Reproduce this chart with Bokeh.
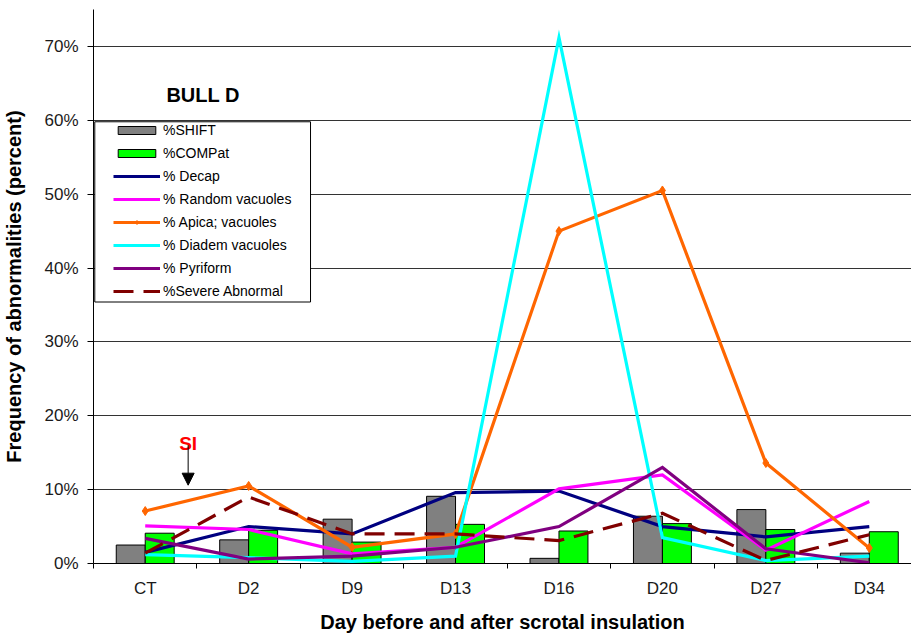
from bokeh.plotting import figure
from bokeh.models import (ColumnDataSource, FixedTicker, Range1d, Legend, LegendItem,
                          BoxAnnotation, Label, Arrow, NormalHead)
from bokeh.transform import dodge
from bokeh.embed import file_html
from bokeh.resources import INLINE

# Sampling days (CT = control, then days after scrotal insulation)
categories = ["CT", "D2", "D9", "D13", "D16", "D20", "D27", "D34"]

# Frequencies of abnormalities, in percent
shift_pct = [2.5, 3.2, 6.0, 9.1, 0.7, 6.4, 7.3, 1.4]
compat_pct = [4.1, 4.5, 2.9, 5.3, 4.4, 5.4, 4.6, 4.3]
decap_pct = [1.5, 5.0, 4.0, 9.6, 9.8, 5.0, 3.6, 5.0]
random_vac_pct = [5.1, 4.6, 1.3, 2.2, 10.1, 12.0, 1.8, 8.4]
apical_vac_pct = [7.1, 10.5, 2.2, 4.0, 45.0, 50.5, 13.6, 2.1]
diadem_vac_pct = [1.2, 0.8, 0.3, 1.0, 71.2, 3.5, 0.4, 1.0]
pyriform_pct = [3.4, 0.6, 1.0, 2.2, 5.0, 13.0, 2.0, 0.1]
severe_pct = [1.4, 9.0, 4.0, 4.0, 3.1, 6.8, 0.4, 3.9]

y_ticks = [0, 10, 20, 30, 40, 50, 60, 70]

FONT = "Liberation Sans"

source = ColumnDataSource(dict(
    x=list(range(len(categories))),
    shift=shift_pct, compat=compat_pct, decap=decap_pct,
    random=random_vac_pct, apical=apical_vac_pct, diadem=diadem_vac_pct,
    pyriform=pyriform_pct, severe=severe_pct,
))

n = len(categories)
p = figure(width=911, height=635, output_backend="svg", toolbar_location=None,
           x_range=Range1d(-0.5, n - 0.592), y_range=Range1d(0, 75),
           min_border_left=92, min_border_right=0, min_border_top=9,
           min_border_bottom=69)
p.outline_line_color = None
p.background_fill_color = "white"
p.border_fill_color = "white"

# --- x axis: labels at category centres, tick marks between categories
p.xaxis.ticker = FixedTicker(ticks=list(range(n)),
                             minor_ticks=[i - 0.5 for i in range(n + 1)])
p.xaxis.major_label_overrides = {i: c for i, c in enumerate(categories)}
p.xaxis.major_tick_out = 5
p.xaxis.major_tick_in = 0
p.xaxis.minor_tick_out = 5
p.xaxis.minor_tick_in = 0
p.xaxis.minor_tick_line_color = "black"
p.xaxis.major_label_standoff = 10
p.xaxis.axis_label = "Day before and after scrotal insulation"
p.xaxis.axis_label_standoff = 10

# --- y axis: percent ticks
p.yaxis.ticker = FixedTicker(ticks=y_ticks, minor_ticks=[])
p.yaxis.major_label_overrides = {t: f"{t}%" for t in y_ticks}
p.yaxis.major_tick_out = 6
p.yaxis.major_tick_in = 0
p.yaxis.major_label_standoff = 9
p.yaxis.axis_label = "Frequency of abnormalities (percent)"
p.yaxis.axis_label_standoff = 16

for ax in (p.xaxis, p.yaxis):
    ax.axis_line_color = "black"
    ax.axis_line_width = 1
    ax.major_label_text_font = FONT
    ax.major_label_text_font_size = "17px"
    ax.major_label_text_color = "#1a1a1a"
    ax.axis_label_text_font = FONT
    ax.axis_label_text_font_size = "20px"
    ax.axis_label_text_font_style = "bold"
    ax.axis_label_text_color = "black"
p.yaxis.major_tick_line_color = "black"
p.xaxis.major_tick_line_color = None

# --- grid: horizontal lines, plus the top edge of the plot area
p.xgrid.visible = False
p.ygrid.ticker = FixedTicker(ticks=y_ticks[1:] + [75])
p.ygrid.grid_line_color = "#333333"
p.ygrid.grid_line_width = 1

# --- bars
BAR_W = 0.28
r_shift = p.vbar(x=dodge("x", -0.14, range=p.x_range), top="shift", width=BAR_W,
                 source=source, fill_color="#808080", line_color="black", line_width=1)
r_compat = p.vbar(x=dodge("x", 0.14, range=p.x_range), top="compat", width=BAR_W,
                  source=source, fill_color="#00ff00", line_color="black", line_width=1)

# --- lines
LW = 3.2
r_decap = p.line("x", "decap", source=source, line_color="#000080", line_width=LW,
                 line_join="miter")
r_random = p.line("x", "random", source=source, line_color="#ff00ff", line_width=LW,
                  line_join="miter")
r_apical = p.line("x", "apical", source=source, line_color="#ff6600", line_width=LW,
                  line_join="miter")
r_apical_pts = p.scatter("x", "apical", source=source, marker="diamond", size=9,
                         fill_color="#ff6600", line_color="#ff6600")
r_diadem = p.line("x", "diadem", source=source, line_color="#00ffff", line_width=LW,
                  line_join="miter")
r_pyri = p.line("x", "pyriform", source=source, line_color="#800080", line_width=LW,
                line_join="miter")
r_severe = p.line("x", "severe", source=source, line_color="#800000", line_width=LW,
                  line_dash="20 10", line_join="miter")

# --- legend frame (white box) and legend entries on top of it
legend_box = BoxAnnotation(left=-0.4875, right=1.598, top=59.8, bottom=35.4,
                           fill_color="white", fill_alpha=1.0,
                           line_color="black", line_width=1, line_alpha=1.0)
p.add_layout(legend_box)

legend = Legend(items=[
    LegendItem(label="%SHIFT", renderers=[r_shift]),
    LegendItem(label="%COMPat", renderers=[r_compat]),
    LegendItem(label="% Decap", renderers=[r_decap]),
    LegendItem(label="% Random vacuoles", renderers=[r_random]),
    LegendItem(label="% Apica; vacuoles", renderers=[r_apical, r_apical_pts]),
    LegendItem(label="% Diadem vacuoles", renderers=[r_diadem]),
    LegendItem(label="% Pyriform", renderers=[r_pyri]),
    LegendItem(label="%Severe Abnormal", renderers=[r_severe]),
], location=(20, 264))
legend.margin = 0
legend.padding = 2
legend.spacing = 6
legend.label_height = 17
legend.glyph_height = 10
legend.glyph_width = 47
legend.label_standoff = 3
legend.label_text_font = FONT
legend.label_text_font_size = "14px"
legend.label_text_color = "black"
legend.background_fill_alpha = 0
legend.border_line_color = None
p.add_layout(legend)

# --- title inside the plot area
p.add_layout(Label(x=0.205, y=63.4, text="BULL D", text_font=FONT,
                   text_font_size="20px", text_font_style="bold",
                   text_color="black", text_align="left",
                   text_baseline="alphabetic"))

# --- scrotal insulation marker
SI_X = 0.415
p.add_layout(Label(x=SI_X, y=16.3, text="SI", text_font=FONT,
                   text_font_size="19px", text_font_style="bold",
                   text_color="#ff0000", text_align="center",
                   text_baseline="alphabetic"))
p.add_layout(Arrow(x_start=SI_X, y_start=16.0, x_end=SI_X, y_end=10.6,
                   line_color="black", line_width=1,
                   end=NormalHead(size=12, fill_color="black", line_color="black")))

open("out.html", "w").write(file_html(p, INLINE))
